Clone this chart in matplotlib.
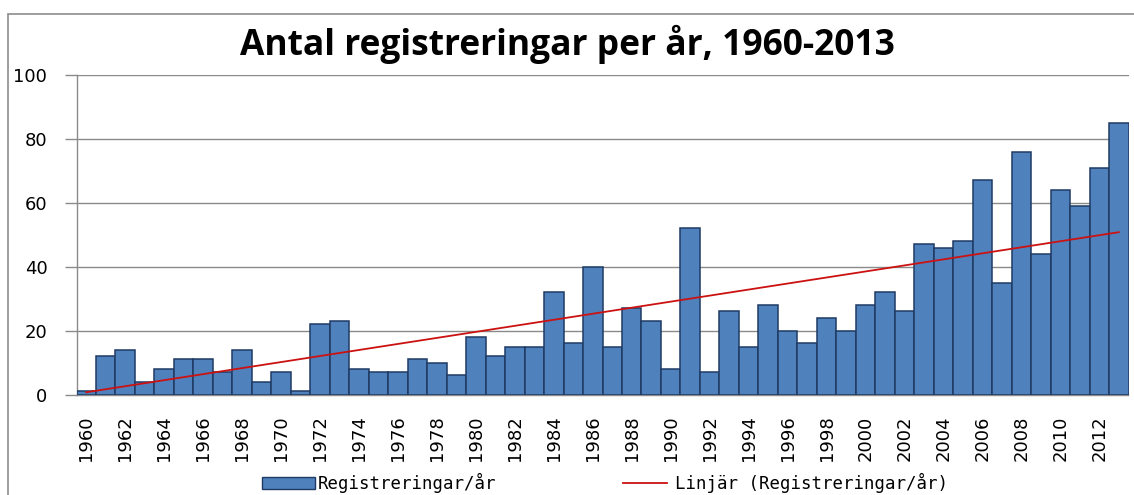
import numpy as np
import matplotlib
matplotlib.use("Agg")
import matplotlib.pyplot as plt
from matplotlib.patches import Rectangle
from matplotlib.lines import Line2D

years = list(range(1960, 2014))
counts = [1, 12, 14, 4, 8, 11, 11, 7, 14, 4,
          7, 1, 22, 23, 8, 7, 7, 11, 10, 6,
          18, 12, 15, 15, 32, 16, 40, 15, 27, 23,
          8, 52, 7, 26, 15, 28, 20, 16, 24, 20,
          28, 32, 26, 47, 46, 48, 67, 35, 76, 44,
          64, 59, 71, 85]
# linear trend line (start 1960, end 2013)
trend_years = [1960, 2013]
trend_values = [0.7, 50.8]
yticks = [0, 20, 40, 60, 80, 100]
title = "Antal registreringar per år, 1960-2013"
bar_label = "Registreringar/år"
trend_label = "Linjär (Registreringar/år)"

W, H = 1134, 495
fig = plt.figure(figsize=(W / 100, H / 100), dpi=100)
fig.patch.set_facecolor("white")

# outer chart frame
fig.add_artist(Rectangle((7.5 / W, -0.2), 2.0, 1.2 - 13.5 / H, transform=fig.transFigure,
                         fill=False, edgecolor="#8c8c8c", linewidth=1.2))

ax = fig.add_axes([76.5 / W, 1 - 394.5 / H, (1128.5 - 76.5) / W, (394.5 - 75) / H])
x = np.arange(len(years))
ax.bar(x, counts, width=1.0, color="#4F81BD", edgecolor="#1F3B64", linewidth=1.1,
       zorder=3)

tx = [years.index(y) for y in trend_years]
ax.plot(tx, trend_values, color="#CC1111", linewidth=1.3, zorder=4)

ax.set_xlim(-0.5, len(years) - 0.5)
ax.set_ylim(0, 100)
ax.set_yticks(yticks)
ax.yaxis.grid(True, color="#8a8a8a", linewidth=1.0, zorder=0)
ax.set_axisbelow(True)
ax.tick_params(axis="y", length=9, width=1.0, color="#8a8a8a", labelsize=13, pad=12)
for s in ["top", "right"]:
    ax.spines[s].set_visible(False)
for s in ["left", "bottom"]:
    ax.spines[s].set_color("#8a8a8a")
    ax.spines[s].set_linewidth(1.0)

even = [i for i, y in enumerate(years) if y % 2 == 0]
ax.set_xticks(even)
ax.set_xticklabels([str(years[i]) for i in even], rotation=90, fontsize=13)
ax.tick_params(axis="x", length=0, pad=15)

fig.text(0.5, 1 - 44 / H, title, ha="center", va="center", fontsize=25.5,
         fontweight="bold", family=["Open Sans", "DejaVu Sans"])

fs = 12.5
fpx = fs * 100 / 72
prop = {"family": ["DejaVu Sans Mono", "DejaVu Sans"], "size": fs}
h1 = Rectangle((0, 0), 1, 1, facecolor="#4F81BD", edgecolor="#1F3B64", linewidth=1.0)
h2 = Line2D([0], [0], color="#CC1111", linewidth=1.3)
ly = 1 - 483 / H
leg1 = fig.legend([h1], [bar_label], loc="center left", bbox_to_anchor=(262 / W, ly),
                  frameon=False, borderpad=0, borderaxespad=0,
                  handlelength=53 / fpx, handleheight=13 / fpx, handletextpad=3 / fpx, prop=prop)
leg2 = fig.legend([h2], [trend_label], loc="center left", bbox_to_anchor=(623 / W, ly),
                  frameon=False, borderpad=0, borderaxespad=0,
                  handlelength=44 / fpx, handletextpad=8 / fpx, prop=prop)

fig.savefig("out.png", dpi=100)
